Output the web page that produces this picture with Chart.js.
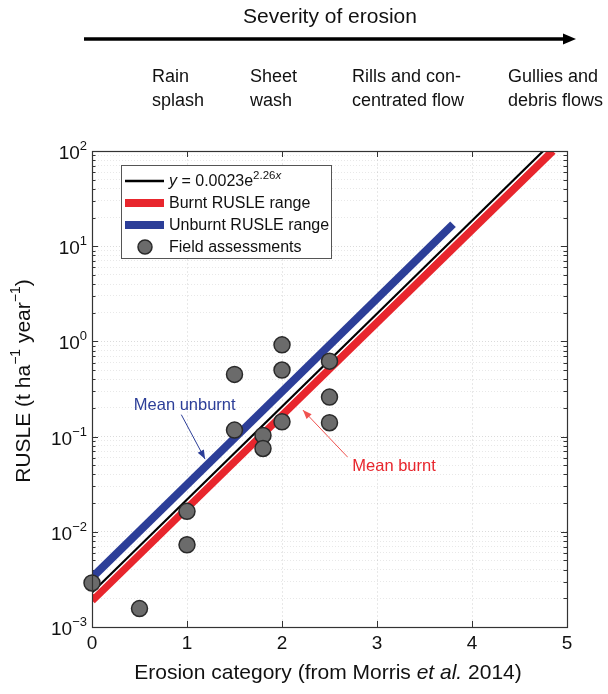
<!DOCTYPE html>
<html><head><meta charset="utf-8">
<script src="https://cdn.jsdelivr.net/npm/chart.js@4"></script>
<style>html,body{margin:0;padding:0;background:#fff}#wrap{position:relative;width:608px;height:694px}</style>
</head><body><div id="wrap"><canvas id="c" width="608" height="694"></canvas></div>
<script>
// ---- data ----
const fieldX = [0, 0.5, 1, 1, 1.5, 1.5, 1.8, 1.8, 2, 2, 2, 2.5, 2.5, 2.5];
const fieldY = [0.0029, 0.00156, 0.0164, 0.0073, 0.45, 0.117, 0.103, 0.075, 0.92, 0.50, 0.143, 0.62, 0.26, 0.14];
const fitX = [0, 4.75];
const fitY = [0.0023, 100];
const burntX = [0, 4.85];
const burntY = [0.0019, 100];
const unburntX = [0, 3.8];
const unburntY = [0.0033, 17];
const xTicks = [0, 1, 2, 3, 4, 5];
const yTickExponents = [-3, -2, -1, 0, 1, 2];
const stageLabels = [["Rain", "splash"], ["Sheet", "wash"], ["Rills and con-", "centrated flow"], ["Gullies and", "debris flows"]];
const headerTitle = "Severity of erosion";
const legendLabels = ["Burnt RUSLE range", "Unburnt RUSLE range", "Field assessments"];
const annUnburnt = {text: "Mean unburnt", tx: 0.44, ty: 0.21, ax0: 0.94, ay0: 0.17, ax1: 1.19, ay1: 0.058};
const annBurnt = {text: "Mean burnt", tx: 2.74, ty: 0.048, ax0: 2.69, ay0: 0.061, ax1: 2.22, ay1: 0.19};

const RED = '#e8262d', BLUE = '#2c3e98', FONT = '"Liberation Sans", Arial, sans-serif';
const toPts = (xs, ys) => xs.map((x, i) => ({x, y: ys[i]}));

function arrow(ctx, x0, y0, x1, y1, color) {
  ctx.save();
  ctx.strokeStyle = color; ctx.fillStyle = color; ctx.lineWidth = 1;
  ctx.beginPath(); ctx.moveTo(x0, y0); ctx.lineTo(x1, y1); ctx.stroke();
  const a = Math.atan2(y1 - y0, x1 - x0), L = 9, W = 3.5;
  ctx.beginPath();
  ctx.moveTo(x1, y1);
  ctx.lineTo(x1 - L * Math.cos(a) + W * Math.sin(a), y1 - L * Math.sin(a) - W * Math.cos(a));
  ctx.lineTo(x1 - L * Math.cos(a) - W * Math.sin(a), y1 - L * Math.sin(a) + W * Math.cos(a));
  ctx.closePath(); ctx.fill();
  ctx.restore();
}

const deco = {
  id: 'deco',
  beforeDatasetsDraw(chart) {
    const {ctx, chartArea: a, scales: {x, y}} = chart;
    ctx.save();
    ctx.strokeStyle = '#333'; ctx.lineWidth = 1;
    y.ticks.forEach(t => {
      const p = Math.round(y.getPixelForValue(t.value)) + 0.5;
      const major = Math.abs(Math.log10(t.value) - Math.round(Math.log10(t.value))) < 1e-9;
      const len = major ? 6 : 3.5;
      ctx.beginPath(); ctx.moveTo(a.left, p); ctx.lineTo(a.left + len, p);
      ctx.moveTo(a.right, p); ctx.lineTo(a.right - len, p); ctx.stroke();
    });
    xTicks.forEach(v => {
      const p = Math.round(x.getPixelForValue(v)) + 0.5;
      ctx.beginPath(); ctx.moveTo(p, a.bottom); ctx.lineTo(p, a.bottom - 6);
      ctx.moveTo(p, a.top); ctx.lineTo(p, a.top + 6); ctx.stroke();
    });
    ctx.restore();
  },
  afterDatasetsDraw(chart) {
    const {ctx, chartArea: a, scales: {x, y}} = chart;
    ctx.save();
    ctx.strokeStyle = '#333'; ctx.lineWidth = 1.2;
    ctx.strokeRect(Math.round(a.left) + 0.5, Math.round(a.top) + 0.5, Math.round(a.right - a.left), Math.round(a.bottom - a.top));
    // y tick labels 10^n
    ctx.fillStyle = '#111'; ctx.textBaseline = 'alphabetic';
    yTickExponents.forEach(e => {
      const p = y.getPixelForValue(Math.pow(10, e));
      const sup = e < 0 ? '\u2212' + (-e) : String(e);
      ctx.font = '13px ' + FONT;
      const sw = ctx.measureText(sup).width;
      ctx.font = '19px ' + FONT;
      const bw = ctx.measureText('10').width;
      const right = a.left - 5;
      ctx.textAlign = 'left';
      ctx.fillText('10', right - sw - bw, p + 8);
      ctx.font = '13px ' + FONT;
      ctx.fillText(sup, right - sw, p - 1);
    });
    // annotations
    ctx.font = '16.5px ' + FONT; ctx.textAlign = 'left'; ctx.textBaseline = 'middle';
    ctx.fillStyle = BLUE;
    ctx.fillText(annUnburnt.text, x.getPixelForValue(annUnburnt.tx), y.getPixelForValue(annUnburnt.ty));
    arrow(ctx, x.getPixelForValue(annUnburnt.ax0), y.getPixelForValue(annUnburnt.ay0), x.getPixelForValue(annUnburnt.ax1), y.getPixelForValue(annUnburnt.ay1), BLUE);
    ctx.fillStyle = RED;
    ctx.fillText(annBurnt.text, x.getPixelForValue(annBurnt.tx), y.getPixelForValue(annBurnt.ty));
    arrow(ctx, x.getPixelForValue(annBurnt.ax0), y.getPixelForValue(annBurnt.ay0), x.getPixelForValue(annBurnt.ax1), y.getPixelForValue(annBurnt.ay1), '#f0524f');
    // legend
    const lx = 121, ly = 165, lw = 210, lh = 93;
    ctx.fillStyle = '#fff'; ctx.fillRect(lx, ly, lw, lh);
    ctx.strokeStyle = '#555'; ctx.lineWidth = 1; ctx.strokeRect(lx + 0.5, ly + 0.5, lw, lh);
    const rows = [181, 203, 225, 247];
    ctx.lineCap = 'butt';
    ctx.strokeStyle = '#000'; ctx.lineWidth = 2.5;
    ctx.beginPath(); ctx.moveTo(125, rows[0]); ctx.lineTo(164, rows[0]); ctx.stroke();
    ctx.strokeStyle = RED; ctx.lineWidth = 8;
    ctx.beginPath(); ctx.moveTo(125, rows[1]); ctx.lineTo(164, rows[1]); ctx.stroke();
    ctx.strokeStyle = BLUE;
    ctx.beginPath(); ctx.moveTo(125, rows[2]); ctx.lineTo(164, rows[2]); ctx.stroke();
    ctx.fillStyle = '#6b6b6b'; ctx.strokeStyle = '#2a2a2a'; ctx.lineWidth = 1.5;
    ctx.beginPath(); ctx.arc(145, rows[3], 7, 0, Math.PI * 2); ctx.fill(); ctx.stroke();
    ctx.fillStyle = '#111'; ctx.textBaseline = 'middle';
    let tx = 169;
    ctx.font = 'italic 16px ' + FONT; ctx.fillText('y', tx, rows[0] + 1); tx += ctx.measureText('y').width;
    ctx.font = '16px ' + FONT; ctx.fillText(' = 0.0023e', tx, rows[0] + 1); tx += ctx.measureText(' = 0.0023e').width;
    ctx.font = '11.5px ' + FONT; ctx.fillText('2.26', tx, rows[0] - 5); tx += ctx.measureText('2.26').width;
    ctx.font = 'italic 11.5px ' + FONT; ctx.fillText('x', tx, rows[0] - 5);
    ctx.font = '16px ' + FONT;
    legendLabels.forEach((l, i) => ctx.fillText(l, 169, rows[i + 1] + 1));
    ctx.restore();
  },
  afterDraw(chart) {
    const {ctx, chartArea: a} = chart;
    ctx.save();
    ctx.fillStyle = '#111';
    // header
    ctx.font = '21px ' + FONT; ctx.textAlign = 'center'; ctx.textBaseline = 'middle';
    ctx.fillText(headerTitle, 330, 17);
    ctx.strokeStyle = '#000'; ctx.lineWidth = 3.5;
    ctx.beginPath(); ctx.moveTo(84, 39); ctx.lineTo(566, 39); ctx.stroke();
    ctx.beginPath(); ctx.moveTo(576, 39); ctx.lineTo(563, 33.5); ctx.lineTo(563, 44.5); ctx.closePath(); ctx.fillStyle = '#000'; ctx.fill();
    ctx.fillStyle = '#111'; ctx.textAlign = 'left'; ctx.font = '18px ' + FONT;
    const sx = [152, 250, 352, 508];
    stageLabels.forEach((s, i) => { ctx.fillText(s[0], sx[i], 77); ctx.fillText(s[1], sx[i], 101); });
    // x title
    ctx.textBaseline = 'middle';
    const parts = [['Erosion category (from Morris ', ''], ['et al.', 'italic '], [' 2014)', '']];
    let w = 0; parts.forEach(p => { ctx.font = p[1] + '21px ' + FONT; w += ctx.measureText(p[0]).width; });
    let px = 328 - w / 2;
    parts.forEach(p => { ctx.font = p[1] + '21px ' + FONT; ctx.fillText(p[0], px, 673); px += ctx.measureText(p[0]).width; });
    // y title
    ctx.translate(24, 381); ctx.rotate(-Math.PI / 2);
    const yp = [['RUSLE (t ha', 21, 0], ['\u22121', 14, -8], [' year', 21, 0], ['\u22121', 14, -8], [')', 21, 0]];
    w = 0; yp.forEach(p => { ctx.font = p[1] + 'px ' + FONT; w += ctx.measureText(p[0]).width; });
    px = -w / 2;
    yp.forEach(p => { ctx.font = p[1] + 'px ' + FONT; ctx.fillText(p[0], px, p[2]); px += ctx.measureText(p[0]).width; });
    ctx.restore();
  }
};

const yMinorTicks = [];
yTickExponents.forEach(e => { const m = e === yTickExponents[yTickExponents.length - 1] ? [1] : [1,2,3,4,5,6,7,8,9]; m.forEach(k => yMinorTicks.push(k * Math.pow(10, e))); });

new Chart(document.getElementById('c'), {
  type: 'scatter',
  data: {
    datasets: [
      {label: 'Field assessments', data: toPts(fieldX, fieldY), pointRadius: 8, pointHoverRadius: 8, backgroundColor: '#6b6b6b', borderColor: '#2a2a2a', borderWidth: 1.5, order: 0, clip: false},
      {label: 'fit', data: toPts(fitX, fitY), showLine: true, pointRadius: 0, borderColor: '#000', borderWidth: 2.2, order: 1},
      {label: 'fit halo', data: toPts(fitX, fitY), showLine: true, pointRadius: 0, borderColor: '#fff', borderWidth: 5, order: 2},
      {label: 'Unburnt', data: toPts(unburntX, unburntY), showLine: true, pointRadius: 0, borderColor: BLUE, borderWidth: 8, order: 3},
      {label: 'Burnt', data: toPts(burntX, burntY), showLine: true, pointRadius: 0, borderColor: RED, borderWidth: 8, order: 4}
    ]
  },
  options: {
    responsive: false, animation: false, devicePixelRatio: 1,
    layout: {padding: {left: 0, right: 41, top: 151, bottom: 0}},
    plugins: {legend: {display: false}, tooltip: {enabled: false}},
    scales: {
      x: {
        type: 'linear', min: 0, max: 5,
        afterBuildTicks: s => { s.ticks = xTicks.map(v => ({value: v})); },
        afterFit: s => { s.height = 67; },
        ticks: {font: {size: 19, family: FONT}, color: '#111', padding: 5},
        grid: {color: 'rgba(0,0,0,0.09)', drawTicks: false, lineWidth: 1},
        border: {display: false, dash: [2, 2]}
      },
      y: {
        type: 'logarithmic', min: 0.001, max: 100,
        afterBuildTicks: s => { s.ticks = yMinorTicks.map(v => ({value: v})); },
        afterFit: s => { s.width = 92; },
        ticks: {display: true, callback: () => '', font: {size: 1}},
        grid: {color: c => (c.tick && Math.abs(Math.log10(c.tick.value) % 1) < 1e-9) ? 'rgba(0,0,0,0.14)' : 'rgba(0,0,0,0.09)', drawTicks: false, lineWidth: 1},
        border: {display: false, dash: [1, 2]}
      }
    }
  },
  plugins: [deco]
});
</script></body></html>
